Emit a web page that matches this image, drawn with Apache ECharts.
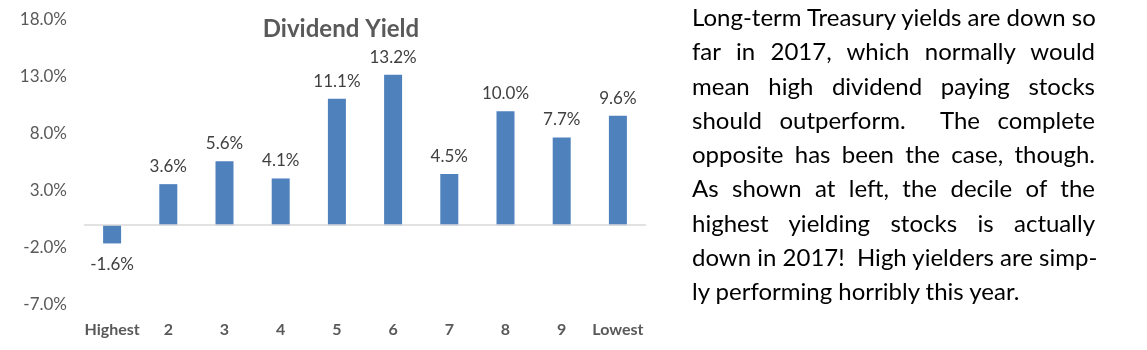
<!DOCTYPE html>
<html>
<head>
<meta charset="utf-8">
<script src="https://cdn.jsdelivr.net/npm/echarts@6/dist/echarts.min.js"></script>
<style>
  html, body { margin: 0; padding: 0; background: #fff; }
  #wrap { position: relative; width: 1147px; height: 350px; overflow: hidden; }
  #chart { position: absolute; left: 0; top: 0; width: 1147px; height: 350px; }
  #note { position: absolute; left: 692px; top: 0px; width: 403px; font-family: Lato, "Noto Sans", sans-serif;
          font-size: 24px; line-height: 34.3px; color: #000; }
  #note div { white-space: nowrap; text-align: justify; text-align-last: justify; }
  #note div.last { text-align: left; text-align-last: left; }
</style>
</head>
<body>
<div id="wrap">
  <div id="chart"></div>
  <div id="note">
    <div>Long-term Treasury yields are down so</div>
    <div>far in 2017, which normally would</div>
    <div>mean high dividend paying stocks</div>
    <div>should outperform.&nbsp; The complete</div>
    <div>opposite has been the case, though.</div>
    <div>As shown at left, the decile of the</div>
    <div>highest yielding stocks is actually</div>
    <div>down in 2017!&nbsp; High yielders are simp-</div>
    <div class="last">ly performing horribly this year.</div>
  </div>
</div>
<script>
const categories = ['Highest', '2', '3', '4', '5', '6', '7', '8', '9', 'Lowest'];
const yieldValues = [-1.6, 3.6, 5.6, 4.1, 11.1, 13.2, 4.5, 10.0, 7.7, 9.6];
const chartTitle = 'Dividend Yield';

const chart = echarts.init(document.getElementById('chart'));
chart.setOption({
  animation: false,
  title: {
    text: chartTitle,
    left: 336, top: 12, textAlign: 'center',
    textStyle: { fontFamily: 'Lato', fontWeight: 'bold', fontSize: 24, color: '#595959' }
  },
  grid: { left: 84, right: 501, top: 20, bottom: 45, containLabel: false },
  xAxis: {
    type: 'category',
    data: categories,
    axisLine: { show: false },
    axisTick: { show: false },
    axisLabel: { interval: 0, margin: 17, fontFamily: 'Lato', fontWeight: 'bold', fontSize: 16, color: '#595959' }
  },
  yAxis: {
    type: 'value',
    min: -7, max: 18, interval: 5,
    splitLine: { show: false },
    axisLine: { show: false },
    axisTick: { show: false },
    axisLabel: {
      margin: 17, fontFamily: 'Lato', fontSize: 17, color: '#595959',
      formatter: v => v.toFixed(1) + '%'
    }
  },
  series: [{
    type: 'bar',
    barWidth: 18,
    itemStyle: { color: '#4F81BD' },
    data: yieldValues.map(v => ({
      value: v,
      label: { position: v < 0 ? 'bottom' : 'top', distance: v < 0 ? 13 : 9 }
    })),
    label: {
      show: true, fontFamily: 'Lato', fontSize: 17, color: '#404040',
      formatter: p => p.value.toFixed(1) + '%'
    },
    markLine: {
      silent: true, symbol: 'none', label: { show: false },
      lineStyle: { color: '#D9D9D9', type: 'solid', width: 1.5 },
      data: [{ yAxis: 0 }]
    }
  }]
});
</script>
</body>
</html>
